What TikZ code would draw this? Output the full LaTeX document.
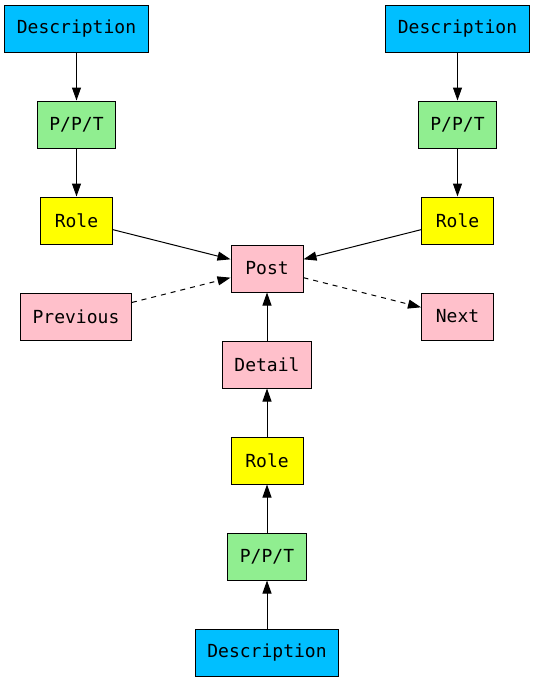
\documentclass[tikz,border=0pt]{standalone}
\usepackage{fontspec}
\setmonofont{DejaVu Sans Mono}
\usetikzlibrary{arrows.meta}
\definecolor{descblue}{HTML}{00BFFF}
\definecolor{pptgreen}{HTML}{90EE90}
\definecolor{roleyellow}{HTML}{FFFF00}
\definecolor{postpink}{HTML}{FFC0CB}
\tikzset{
  box/.style={draw, line width=1pt, minimum width=72pt, minimum height=47pt,
    inner xsep=12pt, font=\ttfamily\fontsize{18}{20}\selectfont},
  descbox/.style={box, fill=descblue},
  pptbox/.style={box, fill=pptgreen},
  rolebox/.style={box, fill=roleyellow},
  postbox/.style={box, fill=postpink},
  link/.style={-{Triangle[length=13pt,width=9pt]}, line width=1pt},
  seq/.style={link, dash pattern=on 5pt off 5pt},
}
\begin{document}
\begin{tikzpicture}[x=1pt,y=-1pt]
\useasboundingbox (0,0) rectangle (535,683);
\foreach \side/\xx in {L/76.5,R/457.5} {
  \node[descbox] (desc\side) at (\xx,28.5) {Description};
  \node[pptbox] (ppt\side) at (\xx,124.5) {P/P/T};
  \node[rolebox] (role\side) at (\xx,220.5) {Role};
  \draw[link] (desc\side) -- (ppt\side);
  \draw[link] (ppt\side) -- (role\side);
}

\node[postbox] (post) at (267,268.5) {Post};
\node[postbox] (prev) at (76,316.5) {Previous};
\node[postbox] (next) at (457.5,316.5) {Next};
\node[postbox] (detail) at (267,364.5) {Detail};
\node[rolebox] (roleM) at (267,460.5) {Role};
\node[pptbox] (pptM) at (267,556.5) {P/P/T};
\node[descbox] (descM) at (267,652.5) {Description};

\draw[link] (roleL) -- (post);
\draw[link] (roleR) -- (post);
\draw[seq] (prev) -- (post);
\draw[seq] (post) -- (next);
\draw[link] (descM) -- (pptM);
\draw[link] (pptM) -- (roleM);
\draw[link] (roleM) -- (detail);
\draw[link] (detail) -- (post);
\end{tikzpicture}
\end{document}
